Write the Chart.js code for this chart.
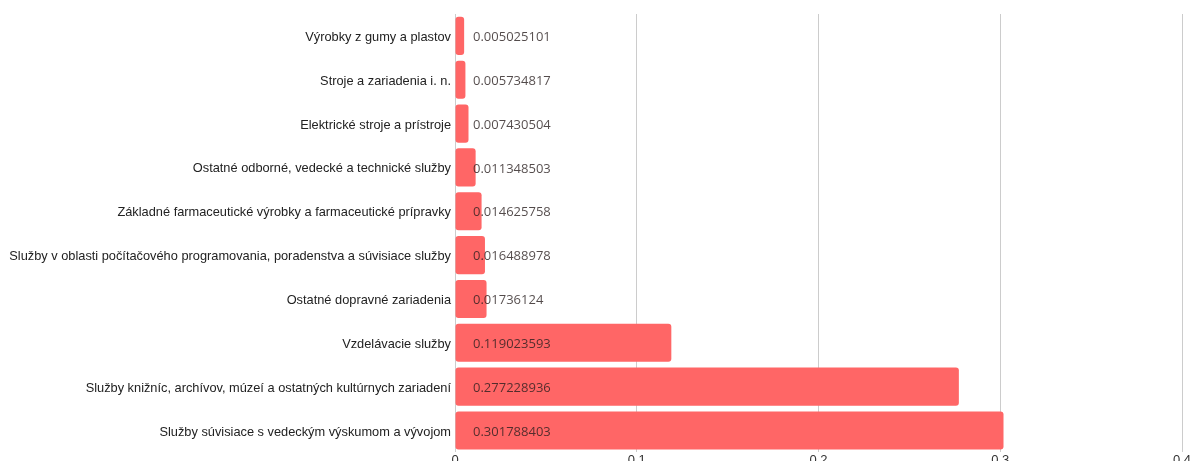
<!DOCTYPE html>
<html>
<head>
<meta charset="utf-8">
<script src="https://cdn.jsdelivr.net/npm/chart.js@4"></script>
<style>
  html, body { margin: 0; padding: 0; background: #fff; overflow: hidden; }
  #wrap { position: relative; width: 1192px; height: 468px; }
</style>
</head>
<body>
<div id="wrap"><canvas id="chart"></canvas></div>
<script>
const categories = [
     'Výrobky z gumy a plastov',
     'Stroje a zariadenia i. n.',
     'Elektrické stroje a prístroje',
     'Ostatné odborné, vedecké a technické služby',
     'Základné farmaceutické výrobky a farmaceutické prípravky',
     'Služby v oblasti počítačového programovania, poradenstva a súvisiace služby',
     'Ostatné dopravné zariadenia',
     'Vzdelávacie služby',
     'Služby knižníc, archívov, múzeí a ostatných kultúrnych zariadení',
     'Služby súvisiace s vedeckým výskumom a vývojom'
];
const values = [0.005025101, 0.005734817, 0.007430504, 0.011348503, 0.014625758,
                0.016488978, 0.01736124, 0.119023593, 0.277228936, 0.301788403];
const valueLabels = ['0.005025101', '0.005734817', '0.007430504', '0.011348503', '0.014625758',
                     '0.016488978', '0.01736124', '0.119023593', '0.277228936', '0.301788403'];
const xTicks = [0, 0.1, 0.2, 0.3, 0.4];

// popisky hodnôt – vždy kúsok od začiatku stĺpca
const valueLabelPlugin = {
     id: 'valueLabels',
     afterDatasetsDraw(chart) {
          const ctx = chart.ctx;
          const meta = chart.getDatasetMeta(0);
          const x0 = chart.scales.x.getPixelForValue(0);
          ctx.save();
          ctx.font = '13px "Open Sans"';
          ctx.fillStyle = 'rgba(40, 30, 30, 0.8)';
          ctx.textBaseline = 'middle';
          meta.data.forEach((bar, i) => {
               ctx.fillText(valueLabels[i], x0 + 18, bar.y + 1.5);
          });
          ctx.restore();
     }
};

const ctx = document.getElementById('chart').getContext('2d');
new Chart(ctx, {
     type: 'bar',
     data: {
          labels: categories,
          datasets: [{
               data: values,
               backgroundColor: '#ff6666',
               borderRadius: 3,
               borderSkipped: false,
               barPercentage: 0.87,
               categoryPercentage: 1
          }]
     },
     options: {
          indexAxis: 'y',
          responsive: true,
          maintainAspectRatio: false,
          animation: false,
          layout: { padding: { top: 14, right: 10, left: 0, bottom: 0 } },
          plugins: {
               legend: { display: false },
               tooltip: { enabled: false }
          },
          scales: {
               x: {
                    min: 0,
                    max: 0.4,
                    afterBuildTicks: (scale) => { scale.ticks = xTicks.map(v => ({ value: v })); },
                    ticks: {
                         color: '#333',
                         font: { family: '"Liberation Sans", Arial', size: 13 },
                         padding: 0,
                         maxRotation: 0
                    },
                    grid: { color: '#cccccc', lineWidth: 1, drawTicks: false },
                    border: { display: false }
               },
               y: {
                    afterFit: (scale) => { scale.width = 455; },
                    ticks: {
                         color: '#222',
                         font: { family: '"Liberation Sans", Arial', size: 12.8 },
                         padding: 4,
                         labelOffset: 1.5
                    },
                    grid: { display: false, drawTicks: false },
                    border: { display: false }
               }
          }
     },
     plugins: [valueLabelPlugin]
});
</script>
</body>
</html>
